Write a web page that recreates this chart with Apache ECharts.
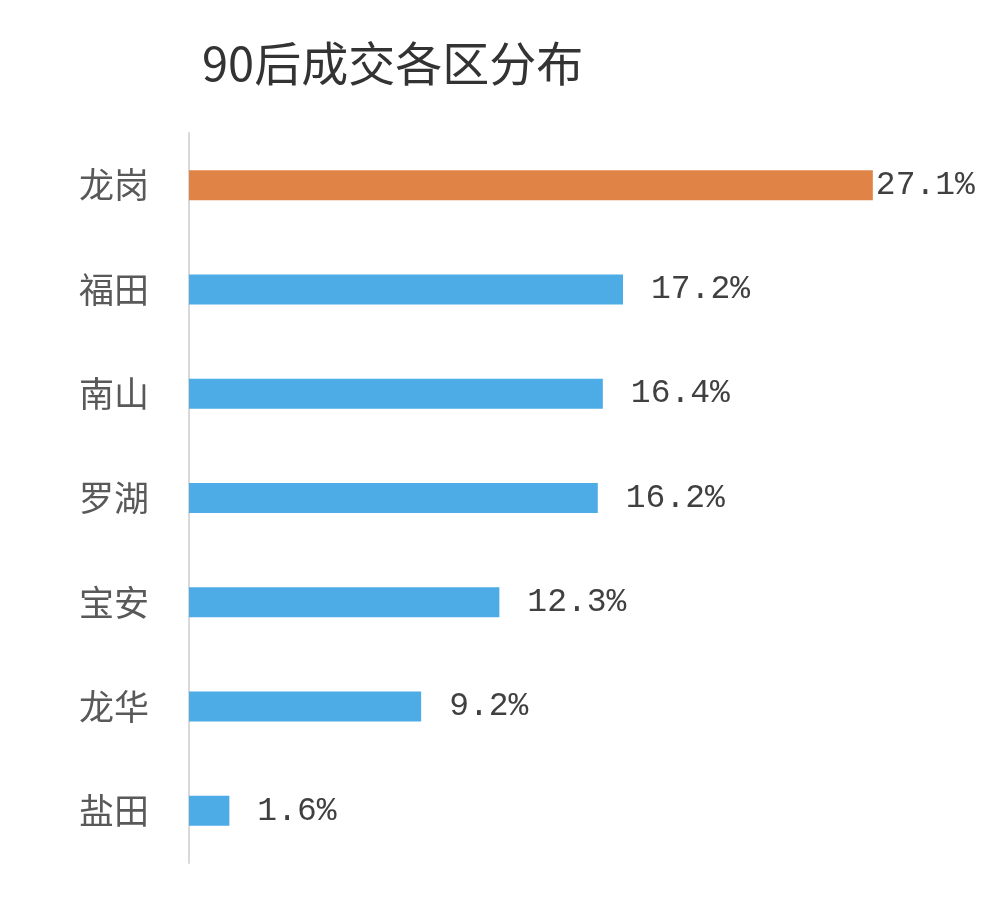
<!DOCTYPE html>
<html>
<head>
<meta charset="utf-8">
<title>90后成交各区分布</title>
<script src="https://cdn.jsdelivr.net/npm/echarts@6/dist/echarts.min.js"></script>
<style>
	html,body{margin:0;padding:0;background:#fff;}
	#main{width:998px;height:900px;}
</style>
</head>
<body>
<div id="main"></div>
<script>
// 各区名称（从上到下）
var districts = ['龙岗', '福田', '南山', '罗湖', '宝安', '龙华', '盐田'];
// 成交占比（%）
var shares = [27.1, 17.2, 16.4, 16.2, 12.3, 9.2, 1.6];
// 高亮的区
var highlightName = '龙岗';

var ORANGE = '#E08346',
	BLUE = '#4DACE6';

function $each(arr, fn){
	for(var i = 0; i < arr.length; i++) fn(i, arr[i]);
}

function initBarChart(dom){
	var myChart = echarts.init(dom),
		barData = [];

	$each(districts, function(index, name){
		var isTop = name == highlightName;
		barData.push({
			value : shares[index],
			itemStyle : { color : isTop ? ORANGE : BLUE },
			label : { distance : isTop ? 3 : 28 }
		});
	});

	var option = {
		animation : false,
		title : {
			text : '90后成交各区分布',
			left : 197,
			top : 35,
			textStyle : {
				fontFamily : 'Noto Sans CJK SC',
				fontSize : 47,
				fontWeight : 'normal',
				color : '#333333'
			}
		},
		grid : {
			left : 189,
			right : 52,
			top : 133,
			bottom : 37
		},
		xAxis : {
			type : 'value',
			min : 0,
			max : 30,
			show : false
		},
		yAxis : {
			type : 'category',
			inverse : true,
			data : districts,
			axisLine : {
				show : true,
				lineStyle : { color : '#D9D9D9', width : 2 }
			},
			axisTick : { show : false },
			axisLabel : {
				margin : 40,
				fontFamily : 'Noto Sans CJK SC',
				fontSize : 35,
				color : '#595959'
			}
		},
		series : [ {
			type : 'bar',
			barWidth : 30,
			data : barData,
			label : {
				show : true,
				position : 'right',
				formatter : '{c}%',
				fontFamily : 'Liberation Mono',
				fontSize : 33,
				color : '#404040'
			}
		} ]
	};
	if (option && typeof option === "object") {
		myChart.setOption(option, true);
	}
	return myChart;
}

initBarChart(document.getElementById('main'));
</script>
</body>
</html>
